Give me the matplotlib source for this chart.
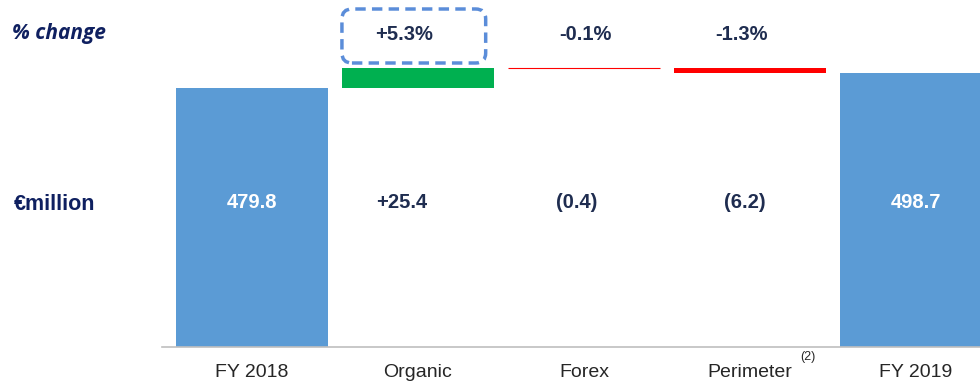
import numpy as np
import matplotlib
matplotlib.use("Agg")
import matplotlib.pyplot as plt
from matplotlib.patches import FancyBboxPatch

plt.rcParams["font.family"] = ["Liberation Sans", "DejaVu Sans"]

# data
categories = ["FY 2018", "Organic", "Forex", "Perimeter", "FY 2019"]
start_total = 479.8
deltas = [25.4, -0.4, -6.2]
end_total = 498.7
value_labels = ["479.8", "+25.4", "(0.4)", "(6.2)", "498.7"]
pct_labels = ["", "+5.3%", "-0.1%", "-1.3%", ""]

BLUE = "#5B9BD5"
GREEN = "#00B050"
RED = "#FF0000"
NAVY = "#1F2D50"
TITLE_NAVY = "#0F2060"

fig = plt.figure(figsize=(9.8, 3.81), dpi=100)
ax = fig.add_axes([162 / 980, 34 / 381, (980 - 162) / 980, 347 / 381])

x = np.arange(len(categories))
width = 0.916

# totals
ax.bar(x[0], start_total, width=width, color=BLUE)
ax.bar(x[-1], end_total, width=width, color=BLUE)

# deltas
level = start_total
for i, d in enumerate(deltas, start=1):
    bottom = level if d >= 0 else level + d
    color = GREEN if d >= 0 else RED
    if abs(d) < 1:
        ax.bar(x[i], abs(d), bottom=bottom, width=width, color=color,
               edgecolor=color, linewidth=0.8)
    else:
        ax.bar(x[i], abs(d), bottom=bottom, width=width, color=color)
    level += d

ax.set_xlim(-0.542, 4.386)
ax.set_ylim(153.6, 590.6)
for s in ["top", "right", "left"]:
    ax.spines[s].set_visible(False)
ax.spines["bottom"].set_color("#BFBFBF")
ax.spines["bottom"].set_linewidth(1.2)
ax.set_yticks([])
ax.set_xticks(x)
ax.set_xticklabels(categories, fontsize=14, color="#262626")
ax.tick_params(axis="x", length=0, pad=12)

# superscript on Perimeter
ax.annotate("(2)", xy=(x[3], 0), xycoords=("data", "axes fraction"),
            xytext=(42, -7), textcoords="offset points", fontsize=9,
            color="#262626", ha="center", va="center")

# value labels
val_offsets = [0, -12, -5, -4, 0]
for i, lab in enumerate(value_labels):
    col = "white" if i in (0, len(categories) - 1) else NAVY
    ax.annotate(lab, xy=(x[i], 0.415), xycoords=("data", "axes fraction"),
                xytext=(val_offsets[i], 0), textcoords="offset points",
                ha="center", va="center", fontsize=14.5, fontweight="bold", color=col)

# percentage labels
pct_offsets = [0, -10, 1, -6, 0]
for i, lab in enumerate(pct_labels):
    if lab:
        ax.annotate(lab, xy=(x[i], 0.9), xycoords=("data", "axes fraction"),
                    xytext=(pct_offsets[i], 0), textcoords="offset points",
                    ha="center", va="center", fontsize=14.5, fontweight="bold", color=NAVY)

# dashed highlight box around organic growth
to_in = ax.transData + fig.dpi_scale_trans.inverted()
(bx0, _), (bx1, _) = to_in.transform([(x[1] - width / 2, 0), (x[1] + width / 2 - 0.05, 0)])
box = FancyBboxPatch((bx0, 3.18), bx1 - bx0, 0.54,
                     boxstyle="round,pad=0,rounding_size=0.1",
                     transform=fig.dpi_scale_trans, fill=False,
                     edgecolor="#5B8DD9", linewidth=2.5, linestyle=(0, (3, 1.8)),
                     clip_on=False)
fig.patches.append(box)

# row headers
fig.text(12 / 980, 1 - 33 / 381, "% change", fontsize=15, fontweight="bold",
         style="italic", color=TITLE_NAVY, va="center", ha="left",
         family=["Open Sans", "DejaVu Sans"])
fig.text(14 / 980, 1 - 205 / 381, "€million", fontsize=15.5, fontweight="bold",
         color=TITLE_NAVY, va="center", ha="left")

fig.savefig("out.png", dpi=100)
